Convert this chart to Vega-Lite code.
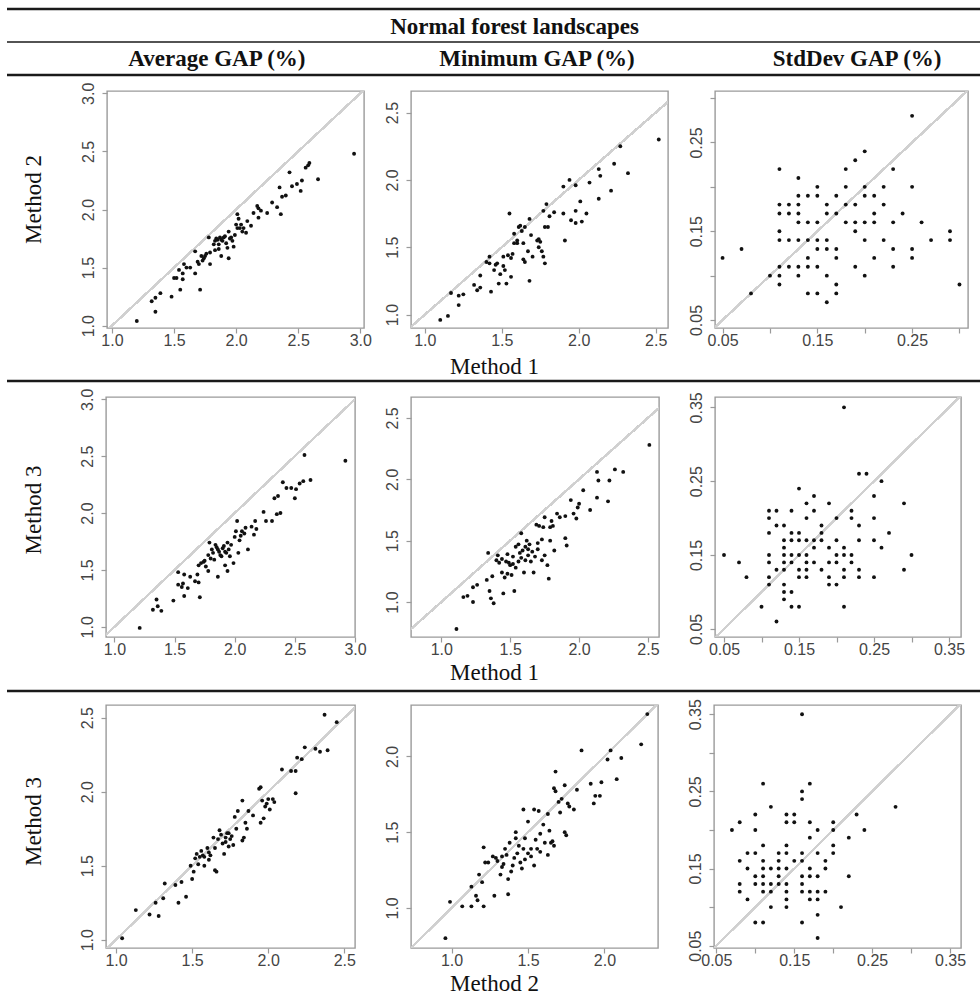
{
  "$schema": "https://vega.github.io/schema/vega-lite/v6.json",
  "padding": {"left": 5, "top": 7, "right": 0, "bottom": 8},
  "background": "white",
  "spacing": 4,
  "datasets": {
    "avg12": [
      {"x":1.20,"y":1.04},{"x":1.35,"y":1.12},{"x":1.32,"y":1.21},{"x":1.35,"y":1.24},{"x":1.39,"y":1.28},{"x":1.48,"y":1.25},{"x":1.50,"y":1.41},{"x":1.52,"y":1.41},{"x":1.55,"y":1.31},{"x":1.54,"y":1.48},{"x":1.57,"y":1.45},{"x":1.58,"y":1.53},{"x":1.57,"y":1.40},{"x":1.63,"y":1.50},{"x":1.67,"y":1.45},{"x":1.67,"y":1.64},{"x":1.71,"y":1.31},{"x":1.70,"y":1.53},{"x":1.73,"y":1.56},{"x":1.74,"y":1.58},{"x":1.75,"y":1.60},{"x":1.78,"y":1.76},{"x":1.79,"y":1.63},{"x":1.82,"y":1.70},{"x":1.83,"y":1.73},{"x":1.85,"y":1.74},{"x":1.86,"y":1.70},{"x":1.87,"y":1.76},{"x":1.88,"y":1.60},{"x":1.89,"y":1.73},{"x":1.90,"y":1.76},{"x":1.92,"y":1.71},{"x":1.93,"y":1.67},{"x":1.94,"y":1.58},{"x":1.96,"y":1.76},{"x":1.97,"y":1.73},{"x":1.98,"y":1.68},{"x":2.00,"y":1.87},{"x":2.01,"y":1.96},{"x":2.01,"y":1.84},{"x":2.02,"y":1.92},{"x":2.04,"y":1.87},{"x":2.06,"y":1.84},{"x":2.08,"y":1.80},{"x":2.09,"y":1.90},{"x":2.12,"y":1.86},{"x":2.14,"y":1.97},{"x":2.17,"y":2.03},{"x":2.18,"y":1.93},{"x":2.20,"y":1.99},{"x":2.25,"y":1.97},{"x":2.29,"y":2.06},{"x":2.33,"y":2.02},{"x":2.35,"y":2.19},{"x":2.36,"y":1.96},{"x":2.37,"y":2.11},{"x":2.43,"y":2.32},{"x":2.45,"y":2.20},{"x":2.49,"y":2.22},{"x":2.52,"y":2.16},{"x":2.53,"y":2.25},{"x":2.56,"y":2.36},{"x":2.59,"y":2.40},{"x":2.66,"y":2.26},{"x":2.95,"y":2.48},{"x":1.72,"y":1.60},{"x":1.83,"y":1.65},{"x":1.94,"y":1.81},{"x":2.05,"y":1.81},{"x":1.79,"y":1.53},{"x":1.84,"y":1.75},{"x":1.88,"y":1.74},{"x":1.91,"y":1.77},{"x":1.95,"y":1.75},{"x":1.99,"y":1.78},{"x":1.86,"y":1.66},{"x":2.03,"y":1.84},{"x":1.76,"y":1.62},{"x":2.18,"y":2.01},{"x":2.40,"y":2.12},{"x":2.58,"y":2.38},{"x":1.60,"y":1.50},{"x":1.69,"y":1.55}
    ],
    "min12": [
      {"x":1.10,"y":0.96},{"x":1.15,"y":0.99},{"x":1.17,"y":1.16},{"x":1.22,"y":1.14},{"x":1.25,"y":1.15},{"x":1.22,"y":1.07},{"x":1.32,"y":1.22},{"x":1.34,"y":1.18},{"x":1.36,"y":1.20},{"x":1.36,"y":1.29},{"x":1.40,"y":1.39},{"x":1.42,"y":1.43},{"x":1.43,"y":1.17},{"x":1.45,"y":1.33},{"x":1.47,"y":1.38},{"x":1.48,"y":1.23},{"x":1.49,"y":1.30},{"x":1.51,"y":1.36},{"x":1.52,"y":1.33},{"x":1.53,"y":1.23},{"x":1.54,"y":1.44},{"x":1.55,"y":1.75},{"x":1.56,"y":1.28},{"x":1.57,"y":1.45},{"x":1.58,"y":1.53},{"x":1.58,"y":1.60},{"x":1.60,"y":1.53},{"x":1.61,"y":1.65},{"x":1.62,"y":1.66},{"x":1.64,"y":1.53},{"x":1.64,"y":1.41},{"x":1.65,"y":1.65},{"x":1.67,"y":1.47},{"x":1.68,"y":1.25},{"x":1.68,"y":1.71},{"x":1.69,"y":1.59},{"x":1.70,"y":1.43},{"x":1.73,"y":1.55},{"x":1.74,"y":1.50},{"x":1.75,"y":1.54},{"x":1.76,"y":1.47},{"x":1.77,"y":1.43},{"x":1.77,"y":1.77},{"x":1.78,"y":1.65},{"x":1.79,"y":1.82},{"x":1.78,"y":1.38},{"x":1.80,"y":1.65},{"x":1.81,"y":1.73},{"x":1.84,"y":1.76},{"x":1.90,"y":1.95},{"x":1.90,"y":1.75},{"x":1.91,"y":1.55},{"x":1.94,"y":2.00},{"x":1.95,"y":1.70},{"x":1.98,"y":1.96},{"x":1.98,"y":1.77},{"x":2.01,"y":1.84},{"x":1.98,"y":1.68},{"x":2.02,"y":1.69},{"x":2.05,"y":1.75},{"x":2.07,"y":1.98},{"x":2.13,"y":2.08},{"x":2.13,"y":1.86},{"x":2.14,"y":2.03},{"x":2.21,"y":1.92},{"x":2.23,"y":2.12},{"x":2.27,"y":2.25},{"x":2.32,"y":2.05},{"x":2.52,"y":2.30},{"x":1.42,"y":1.38},{"x":1.51,"y":1.43},{"x":1.65,"y":1.39},{"x":1.60,"y":1.55},{"x":1.63,"y":1.62},{"x":1.74,"y":1.56},{"x":1.56,"y":1.42},{"x":1.46,"y":1.37}
    ],
    "sd12": [
      {"x":0.05,"y":0.12},{"x":0.07,"y":0.13},{"x":0.08,"y":0.08},{"x":0.10,"y":0.10},{"x":0.11,"y":0.22},{"x":0.11,"y":0.18},{"x":0.11,"y":0.17},{"x":0.11,"y":0.15},{"x":0.11,"y":0.14},{"x":0.11,"y":0.11},{"x":0.11,"y":0.10},{"x":0.11,"y":0.09},{"x":0.12,"y":0.18},{"x":0.12,"y":0.17},{"x":0.12,"y":0.14},{"x":0.12,"y":0.11},{"x":0.13,"y":0.21},{"x":0.13,"y":0.19},{"x":0.13,"y":0.18},{"x":0.13,"y":0.17},{"x":0.13,"y":0.16},{"x":0.13,"y":0.14},{"x":0.13,"y":0.11},{"x":0.13,"y":0.10},{"x":0.14,"y":0.19},{"x":0.14,"y":0.16},{"x":0.14,"y":0.14},{"x":0.14,"y":0.12},{"x":0.14,"y":0.11},{"x":0.14,"y":0.08},{"x":0.15,"y":0.20},{"x":0.15,"y":0.19},{"x":0.15,"y":0.16},{"x":0.15,"y":0.14},{"x":0.15,"y":0.13},{"x":0.15,"y":0.11},{"x":0.15,"y":0.08},{"x":0.16,"y":0.18},{"x":0.16,"y":0.17},{"x":0.16,"y":0.14},{"x":0.16,"y":0.13},{"x":0.16,"y":0.10},{"x":0.16,"y":0.07},{"x":0.17,"y":0.19},{"x":0.17,"y":0.17},{"x":0.17,"y":0.13},{"x":0.17,"y":0.12},{"x":0.17,"y":0.09},{"x":0.17,"y":0.08},{"x":0.18,"y":0.22},{"x":0.18,"y":0.20},{"x":0.18,"y":0.18},{"x":0.18,"y":0.16},{"x":0.19,"y":0.23},{"x":0.19,"y":0.18},{"x":0.19,"y":0.16},{"x":0.19,"y":0.15},{"x":0.19,"y":0.11},{"x":0.20,"y":0.24},{"x":0.20,"y":0.20},{"x":0.20,"y":0.19},{"x":0.20,"y":0.16},{"x":0.20,"y":0.14},{"x":0.20,"y":0.10},{"x":0.21,"y":0.19},{"x":0.21,"y":0.17},{"x":0.21,"y":0.16},{"x":0.21,"y":0.12},{"x":0.22,"y":0.20},{"x":0.22,"y":0.18},{"x":0.22,"y":0.14},{"x":0.23,"y":0.22},{"x":0.23,"y":0.16},{"x":0.23,"y":0.13},{"x":0.23,"y":0.11},{"x":0.24,"y":0.17},{"x":0.25,"y":0.28},{"x":0.25,"y":0.20},{"x":0.25,"y":0.13},{"x":0.25,"y":0.12},{"x":0.26,"y":0.16},{"x":0.27,"y":0.14},{"x":0.29,"y":0.15},{"x":0.29,"y":0.14},{"x":0.30,"y":0.09}
    ],
    "avg13": [
      {"x":1.21,"y":0.99},{"x":1.32,"y":1.15},{"x":1.35,"y":1.24},{"x":1.36,"y":1.18},{"x":1.39,"y":1.14},{"x":1.49,"y":1.23},{"x":1.53,"y":1.48},{"x":1.53,"y":1.37},{"x":1.56,"y":1.35},{"x":1.58,"y":1.46},{"x":1.58,"y":1.27},{"x":1.63,"y":1.44},{"x":1.67,"y":1.40},{"x":1.69,"y":1.46},{"x":1.70,"y":1.39},{"x":1.71,"y":1.26},{"x":1.70,"y":1.54},{"x":1.72,"y":1.56},{"x":1.74,"y":1.57},{"x":1.76,"y":1.53},{"x":1.78,"y":1.49},{"x":1.78,"y":1.63},{"x":1.81,"y":1.68},{"x":1.82,"y":1.65},{"x":1.83,"y":1.59},{"x":1.84,"y":1.72},{"x":1.86,"y":1.44},{"x":1.86,"y":1.68},{"x":1.88,"y":1.63},{"x":1.89,"y":1.62},{"x":1.90,"y":1.69},{"x":1.92,"y":1.54},{"x":1.93,"y":1.65},{"x":1.94,"y":1.49},{"x":1.94,"y":1.74},{"x":1.96,"y":1.62},{"x":1.97,"y":1.72},{"x":1.99,"y":1.56},{"x":2.01,"y":1.84},{"x":2.02,"y":1.93},{"x":2.03,"y":1.65},{"x":2.04,"y":1.76},{"x":2.06,"y":1.84},{"x":2.08,"y":1.82},{"x":2.09,"y":1.87},{"x":2.11,"y":1.68},{"x":2.14,"y":1.88},{"x":2.16,"y":1.81},{"x":2.17,"y":1.93},{"x":2.24,"y":2.01},{"x":2.26,"y":1.93},{"x":2.31,"y":1.93},{"x":2.33,"y":2.13},{"x":2.35,"y":1.99},{"x":2.36,"y":2.15},{"x":2.40,"y":2.27},{"x":2.43,"y":2.22},{"x":2.47,"y":2.22},{"x":2.50,"y":2.13},{"x":2.51,"y":2.21},{"x":2.54,"y":2.26},{"x":2.57,"y":2.28},{"x":2.58,"y":2.51},{"x":2.63,"y":2.29},{"x":2.92,"y":2.46},{"x":1.79,"y":1.74},{"x":1.92,"y":1.66},{"x":2.00,"y":1.79},{"x":1.61,"y":1.34},{"x":1.85,"y":1.70},{"x":1.91,"y":1.71},{"x":1.95,"y":1.68},{"x":1.87,"y":1.66},{"x":1.80,"y":1.60},{"x":2.18,"y":1.86},{"x":2.05,"y":1.80},{"x":1.75,"y":1.58},{"x":1.57,"y":1.38},{"x":2.38,"y":2.00}
    ],
    "min13": [
      {"x":1.11,"y":0.78},{"x":1.16,"y":1.04},{"x":1.19,"y":1.05},{"x":1.23,"y":1.00},{"x":1.23,"y":1.12},{"x":1.26,"y":1.14},{"x":1.33,"y":1.18},{"x":1.34,"y":1.40},{"x":1.37,"y":1.21},{"x":1.35,"y":1.09},{"x":1.36,"y":1.03},{"x":1.38,"y":0.99},{"x":1.40,"y":1.34},{"x":1.41,"y":1.38},{"x":1.42,"y":1.32},{"x":1.44,"y":1.24},{"x":1.45,"y":1.07},{"x":1.46,"y":1.20},{"x":1.47,"y":1.33},{"x":1.48,"y":1.23},{"x":1.49,"y":1.32},{"x":1.50,"y":1.30},{"x":1.51,"y":1.22},{"x":1.52,"y":1.37},{"x":1.53,"y":1.09},{"x":1.54,"y":1.28},{"x":1.54,"y":1.45},{"x":1.56,"y":1.47},{"x":1.56,"y":1.33},{"x":1.57,"y":1.40},{"x":1.58,"y":1.56},{"x":1.59,"y":1.42},{"x":1.60,"y":1.24},{"x":1.61,"y":1.34},{"x":1.62,"y":1.50},{"x":1.63,"y":1.38},{"x":1.64,"y":1.47},{"x":1.65,"y":1.33},{"x":1.67,"y":1.24},{"x":1.68,"y":1.37},{"x":1.69,"y":1.63},{"x":1.70,"y":1.43},{"x":1.71,"y":1.62},{"x":1.73,"y":1.34},{"x":1.73,"y":1.51},{"x":1.74,"y":1.61},{"x":1.75,"y":1.69},{"x":1.75,"y":1.38},{"x":1.77,"y":1.30},{"x":1.78,"y":1.19},{"x":1.79,"y":1.50},{"x":1.79,"y":1.61},{"x":1.80,"y":1.66},{"x":1.81,"y":1.62},{"x":1.82,"y":1.42},{"x":1.84,"y":1.72},{"x":1.86,"y":1.69},{"x":1.90,"y":1.52},{"x":1.91,"y":1.46},{"x":1.90,"y":1.70},{"x":1.94,"y":1.83},{"x":1.96,"y":1.72},{"x":1.98,"y":1.68},{"x":1.99,"y":1.77},{"x":2.00,"y":1.80},{"x":2.03,"y":1.91},{"x":2.08,"y":1.75},{"x":2.13,"y":2.06},{"x":2.14,"y":1.99},{"x":2.13,"y":1.85},{"x":2.21,"y":1.82},{"x":2.22,"y":1.99},{"x":2.26,"y":2.08},{"x":2.32,"y":2.06},{"x":2.51,"y":2.28},{"x":1.61,"y":1.45},{"x":1.48,"y":1.39},{"x":1.66,"y":1.41},{"x":1.58,"y":1.36},{"x":1.52,"y":1.31},{"x":1.44,"y":1.35},{"x":1.70,"y":1.48},{"x":1.63,"y":1.43}
    ],
    "sd13": [
      {"x":0.05,"y":0.15},{"x":0.07,"y":0.14},{"x":0.08,"y":0.12},{"x":0.10,"y":0.08},{"x":0.11,"y":0.21},{"x":0.11,"y":0.20},{"x":0.11,"y":0.18},{"x":0.11,"y":0.15},{"x":0.11,"y":0.14},{"x":0.11,"y":0.12},{"x":0.11,"y":0.11},{"x":0.12,"y":0.21},{"x":0.12,"y":0.13},{"x":0.12,"y":0.06},{"x":0.12,"y":0.19},{"x":0.13,"y":0.19},{"x":0.13,"y":0.17},{"x":0.13,"y":0.16},{"x":0.13,"y":0.15},{"x":0.13,"y":0.14},{"x":0.13,"y":0.13},{"x":0.13,"y":0.11},{"x":0.13,"y":0.10},{"x":0.13,"y":0.09},{"x":0.14,"y":0.21},{"x":0.14,"y":0.18},{"x":0.14,"y":0.17},{"x":0.14,"y":0.15},{"x":0.14,"y":0.14},{"x":0.14,"y":0.10},{"x":0.14,"y":0.08},{"x":0.15,"y":0.24},{"x":0.15,"y":0.18},{"x":0.15,"y":0.17},{"x":0.15,"y":0.15},{"x":0.15,"y":0.13},{"x":0.15,"y":0.12},{"x":0.15,"y":0.08},{"x":0.16,"y":0.22},{"x":0.16,"y":0.20},{"x":0.16,"y":0.17},{"x":0.16,"y":0.15},{"x":0.16,"y":0.14},{"x":0.16,"y":0.13},{"x":0.16,"y":0.12},{"x":0.17,"y":0.23},{"x":0.17,"y":0.21},{"x":0.17,"y":0.17},{"x":0.17,"y":0.16},{"x":0.17,"y":0.14},{"x":0.18,"y":0.19},{"x":0.18,"y":0.18},{"x":0.18,"y":0.17},{"x":0.18,"y":0.13},{"x":0.19,"y":0.22},{"x":0.19,"y":0.16},{"x":0.19,"y":0.14},{"x":0.19,"y":0.12},{"x":0.19,"y":0.11},{"x":0.20,"y":0.20},{"x":0.20,"y":0.17},{"x":0.20,"y":0.15},{"x":0.20,"y":0.14},{"x":0.20,"y":0.11},{"x":0.21,"y":0.35},{"x":0.21,"y":0.16},{"x":0.21,"y":0.15},{"x":0.21,"y":0.13},{"x":0.21,"y":0.12},{"x":0.21,"y":0.08},{"x":0.22,"y":0.21},{"x":0.22,"y":0.20},{"x":0.22,"y":0.15},{"x":0.22,"y":0.14},{"x":0.23,"y":0.26},{"x":0.23,"y":0.19},{"x":0.23,"y":0.17},{"x":0.23,"y":0.13},{"x":0.23,"y":0.12},{"x":0.24,"y":0.26},{"x":0.25,"y":0.23},{"x":0.25,"y":0.20},{"x":0.25,"y":0.17},{"x":0.25,"y":0.12},{"x":0.26,"y":0.25},{"x":0.26,"y":0.16},{"x":0.27,"y":0.18},{"x":0.29,"y":0.22},{"x":0.29,"y":0.13},{"x":0.30,"y":0.15}
    ],
    "avg23": [
      {"x":1.04,"y":1.01},{"x":1.13,"y":1.20},{"x":1.22,"y":1.17},{"x":1.26,"y":1.25},{"x":1.28,"y":1.16},{"x":1.32,"y":1.38},{"x":1.31,"y":1.28},{"x":1.39,"y":1.37},{"x":1.41,"y":1.25},{"x":1.43,"y":1.39},{"x":1.46,"y":1.29},{"x":1.49,"y":1.50},{"x":1.50,"y":1.41},{"x":1.51,"y":1.46},{"x":1.52,"y":1.55},{"x":1.53,"y":1.58},{"x":1.54,"y":1.51},{"x":1.55,"y":1.56},{"x":1.56,"y":1.60},{"x":1.58,"y":1.50},{"x":1.58,"y":1.56},{"x":1.60,"y":1.62},{"x":1.61,"y":1.59},{"x":1.64,"y":1.69},{"x":1.65,"y":1.47},{"x":1.65,"y":1.62},{"x":1.66,"y":1.46},{"x":1.68,"y":1.74},{"x":1.69,"y":1.71},{"x":1.70,"y":1.65},{"x":1.71,"y":1.58},{"x":1.72,"y":1.69},{"x":1.73,"y":1.72},{"x":1.74,"y":1.63},{"x":1.75,"y":1.68},{"x":1.76,"y":1.70},{"x":1.77,"y":1.64},{"x":1.78,"y":1.83},{"x":1.80,"y":1.87},{"x":1.83,"y":1.94},{"x":1.83,"y":1.67},{"x":1.84,"y":1.69},{"x":1.85,"y":1.79},{"x":1.86,"y":1.75},{"x":1.87,"y":1.87},{"x":1.90,"y":1.84},{"x":1.94,"y":2.02},{"x":1.95,"y":2.03},{"x":1.95,"y":1.79},{"x":1.96,"y":1.94},{"x":1.97,"y":1.82},{"x":1.98,"y":1.90},{"x":2.00,"y":1.95},{"x":2.01,"y":1.88},{"x":2.03,"y":1.95},{"x":2.09,"y":2.15},{"x":2.15,"y":2.14},{"x":2.18,"y":1.99},{"x":2.19,"y":2.23},{"x":2.22,"y":2.22},{"x":2.24,"y":2.30},{"x":2.31,"y":2.29},{"x":2.34,"y":2.27},{"x":2.37,"y":2.52},{"x":2.39,"y":2.28},{"x":2.45,"y":2.47},{"x":2.18,"y":2.14},{"x":1.67,"y":1.68},{"x":1.61,"y":1.54},{"x":1.72,"y":1.66},{"x":1.74,"y":1.72},{"x":1.57,"y":1.57},{"x":1.99,"y":1.92},{"x":2.04,"y":1.93},{"x":1.79,"y":1.75},{"x":1.62,"y":1.57}
    ],
    "min23": [
      {"x":0.96,"y":0.80},{"x":0.99,"y":1.04},{"x":1.07,"y":1.01},{"x":1.13,"y":1.01},{"x":1.13,"y":1.14},{"x":1.16,"y":1.08},{"x":1.17,"y":1.05},{"x":1.18,"y":1.22},{"x":1.20,"y":1.17},{"x":1.21,"y":1.01},{"x":1.21,"y":1.40},{"x":1.22,"y":1.30},{"x":1.24,"y":1.30},{"x":1.27,"y":1.34},{"x":1.28,"y":1.08},{"x":1.29,"y":1.33},{"x":1.32,"y":1.22},{"x":1.33,"y":1.27},{"x":1.33,"y":1.34},{"x":1.34,"y":1.29},{"x":1.36,"y":1.35},{"x":1.37,"y":1.19},{"x":1.37,"y":1.09},{"x":1.38,"y":1.43},{"x":1.39,"y":1.24},{"x":1.40,"y":1.28},{"x":1.41,"y":1.33},{"x":1.42,"y":1.50},{"x":1.42,"y":1.46},{"x":1.43,"y":1.36},{"x":1.45,"y":1.30},{"x":1.46,"y":1.26},{"x":1.47,"y":1.39},{"x":1.47,"y":1.65},{"x":1.48,"y":1.46},{"x":1.50,"y":1.57},{"x":1.50,"y":1.36},{"x":1.52,"y":1.34},{"x":1.52,"y":1.39},{"x":1.54,"y":1.65},{"x":1.54,"y":1.28},{"x":1.55,"y":1.45},{"x":1.56,"y":1.39},{"x":1.57,"y":1.64},{"x":1.58,"y":1.37},{"x":1.60,"y":1.55},{"x":1.61,"y":1.43},{"x":1.63,"y":1.35},{"x":1.63,"y":1.62},{"x":1.64,"y":1.51},{"x":1.65,"y":1.43},{"x":1.66,"y":1.44},{"x":1.67,"y":1.41},{"x":1.67,"y":1.79},{"x":1.68,"y":1.90},{"x":1.68,"y":1.77},{"x":1.70,"y":1.70},{"x":1.71,"y":1.63},{"x":1.72,"y":1.72},{"x":1.74,"y":1.81},{"x":1.74,"y":1.50},{"x":1.75,"y":1.48},{"x":1.76,"y":1.69},{"x":1.77,"y":1.67},{"x":1.80,"y":1.65},{"x":1.82,"y":1.78},{"x":1.85,"y":2.04},{"x":1.91,"y":1.82},{"x":1.93,"y":1.69},{"x":1.94,"y":1.74},{"x":1.97,"y":1.74},{"x":1.98,"y":1.83},{"x":2.02,"y":1.98},{"x":2.04,"y":2.04},{"x":2.08,"y":1.85},{"x":2.11,"y":1.99},{"x":2.24,"y":2.08},{"x":2.28,"y":2.28},{"x":1.48,"y":1.32},{"x":1.35,"y":1.39},{"x":1.44,"y":1.41},{"x":1.58,"y":1.49},{"x":1.30,"y":1.31}
    ],
    "sd23": [
      {"x":0.07,"y":0.20},{"x":0.08,"y":0.21},{"x":0.08,"y":0.16},{"x":0.08,"y":0.13},{"x":0.08,"y":0.12},{"x":0.09,"y":0.17},{"x":0.09,"y":0.15},{"x":0.09,"y":0.11},{"x":0.10,"y":0.22},{"x":0.10,"y":0.20},{"x":0.10,"y":0.17},{"x":0.10,"y":0.14},{"x":0.10,"y":0.13},{"x":0.10,"y":0.08},{"x":0.11,"y":0.26},{"x":0.11,"y":0.18},{"x":0.11,"y":0.16},{"x":0.11,"y":0.15},{"x":0.11,"y":0.14},{"x":0.11,"y":0.13},{"x":0.11,"y":0.12},{"x":0.11,"y":0.08},{"x":0.12,"y":0.23},{"x":0.12,"y":0.15},{"x":0.12,"y":0.13},{"x":0.12,"y":0.12},{"x":0.12,"y":0.10},{"x":0.13,"y":0.17},{"x":0.13,"y":0.16},{"x":0.13,"y":0.15},{"x":0.13,"y":0.14},{"x":0.13,"y":0.13},{"x":0.14,"y":0.22},{"x":0.14,"y":0.21},{"x":0.14,"y":0.18},{"x":0.14,"y":0.17},{"x":0.14,"y":0.15},{"x":0.14,"y":0.13},{"x":0.14,"y":0.12},{"x":0.14,"y":0.11},{"x":0.14,"y":0.10},{"x":0.15,"y":0.22},{"x":0.15,"y":0.21},{"x":0.15,"y":0.16},{"x":0.16,"y":0.35},{"x":0.16,"y":0.25},{"x":0.16,"y":0.24},{"x":0.16,"y":0.17},{"x":0.16,"y":0.16},{"x":0.16,"y":0.14},{"x":0.16,"y":0.13},{"x":0.16,"y":0.12},{"x":0.16,"y":0.08},{"x":0.17,"y":0.26},{"x":0.17,"y":0.21},{"x":0.17,"y":0.19},{"x":0.17,"y":0.15},{"x":0.17,"y":0.14},{"x":0.17,"y":0.12},{"x":0.17,"y":0.11},{"x":0.18,"y":0.20},{"x":0.18,"y":0.17},{"x":0.18,"y":0.14},{"x":0.18,"y":0.12},{"x":0.18,"y":0.11},{"x":0.18,"y":0.09},{"x":0.18,"y":0.06},{"x":0.19,"y":0.16},{"x":0.19,"y":0.15},{"x":0.19,"y":0.12},{"x":0.20,"y":0.21},{"x":0.20,"y":0.20},{"x":0.20,"y":0.18},{"x":0.20,"y":0.17},{"x":0.21,"y":0.10},{"x":0.22,"y":0.19},{"x":0.22,"y":0.14},{"x":0.23,"y":0.22},{"x":0.24,"y":0.20},{"x":0.28,"y":0.23}
    ]
  },
  "vconcat": [
    {
      "width": 975,
      "height": 66,
      "view": {"stroke": null},
      "data": {"values": [
        {"label": "Normal forest landscapes", "tier": "group"},
        {"label": "Average GAP (%)", "tier": "measure"},
        {"label": "Minimum GAP (%)", "tier": "measure"},
        {"label": "StdDev GAP (%)", "tier": "measure"}
      ]},
      "layer": [
        {
          "data": {"values": [{"edge": "top"}]},
          "mark": {"type": "rule", "strokeWidth": 2.4, "color": "#1a1a1a"},
          "encoding": {"y": {"datum": "group", "type": "nominal", "bandPosition": 0, "scale": {"type": "band", "domain": ["group", "measure"], "paddingInner": 0, "paddingOuter": 0}, "axis": null}}
        },
        {
          "data": {"values": [{"edge": "middle"}]},
          "mark": {"type": "rule", "strokeWidth": 1.6, "color": "#1a1a1a"},
          "encoding": {"y": {"datum": "measure", "type": "nominal", "bandPosition": 0}}
        },
        {
          "data": {"values": [{"edge": "bottom"}]},
          "mark": {"type": "rule", "strokeWidth": 2.4, "color": "#1a1a1a"},
          "encoding": {"y": {"datum": "measure", "type": "nominal", "bandPosition": 1}}
        },
        {
          "transform": [{"filter": "datum.tier == 'group'"}],
          "mark": {"type": "text", "font": "Liberation Serif", "fontWeight": "bold", "fontSize": 23, "color": "#111", "dx": 20, "dy": 1},
          "encoding": {
            "y": {"field": "tier", "type": "nominal", "bandPosition": 0.5},
            "text": {"field": "label"}
          }
        },
        {
          "transform": [{"filter": "datum.tier == 'measure'"}],
          "mark": {"type": "text", "font": "Liberation Serif", "fontWeight": "bold", "fontSize": 23, "color": "#111"},
          "encoding": {
            "x": {"field": "label", "type": "nominal", "sort": null, "scale": {"type": "point", "domain": ["Average GAP (%)", "Minimum GAP (%)", "StdDev GAP (%)"], "padding": 0.523, "align": 0.627}, "axis": null},
            "y": {"field": "tier", "type": "nominal", "bandPosition": 0.5},
            "text": {"field": "label"}
          }
        }
      ]
    },
    {
      "hconcat": [
        {
          "width": 53, "height": 237, "view": {"stroke": null},
          "data": {"values": [{"label": "Method 2"}]},
          "mark": {"type": "text", "angle": 270, "font": "Liberation Serif", "fontSize": 23, "color": "#111", "dx": 10, "dy": 0},
          "encoding": {"text": {"field": "label"}}
        },
        {
          "width": 257, "height": 237,
          "data": {"name": "avg12"},
          "layer": [
            {"mark": {"type": "rule", "clip": true, "color": "#d0d0d0", "strokeWidth": 1.5},
             "encoding": {"x": {"datum": 0, "type": "quantitative", "axis": {"title": null}}, "y": {"datum": 0, "type": "quantitative", "axis": {"title": null}}, "x2": {"datum": 5}, "y2": {"datum": 5}}},
            {"mark": {"type": "circle", "size": 15, "color": "#111", "opacity": 1},
             "encoding": {
               "x": {"field": "x", "type": "quantitative", "scale": {"domain": [0.96, 3.03], "nice": false, "zero": false}, "axis": {"title": null, "values": [1, 1.5, 2, 2.5, 3], "format": ".1f"}},
               "y": {"field": "y", "type": "quantitative", "scale": {"domain": [0.98, 3.02], "nice": false, "zero": false}, "axis": {"title": null, "values": [1, 1.5, 2, 2.5, 3], "format": ".1f"}}
             }}
          ]
        },
        {
          "width": 257, "height": 237,
          "data": {"name": "min12"},
          "layer": [
            {"mark": {"type": "rule", "clip": true, "color": "#d0d0d0", "strokeWidth": 1.5},
             "encoding": {"x": {"datum": 0, "type": "quantitative", "axis": {"title": null}}, "y": {"datum": 0, "type": "quantitative", "axis": {"title": null}}, "x2": {"datum": 5}, "y2": {"datum": 5}}},
            {"mark": {"type": "circle", "size": 15, "color": "#111", "opacity": 1},
             "encoding": {
               "x": {"field": "x", "type": "quantitative", "scale": {"domain": [0.91, 2.58], "nice": false, "zero": false}, "axis": {"title": null, "values": [1, 1.5, 2, 2.5], "format": ".1f"}},
               "y": {"field": "y", "type": "quantitative", "scale": {"domain": [0.9, 2.66], "nice": false, "zero": false}, "axis": {"title": null, "values": [1, 1.5, 2, 2.5], "format": ".1f"}}
             }}
          ]
        },
        {
          "width": 253, "height": 237,
          "data": {"name": "sd12"},
          "layer": [
            {"mark": {"type": "rule", "clip": true, "color": "#d0d0d0", "strokeWidth": 1.5},
             "encoding": {"x": {"datum": 0, "type": "quantitative", "axis": {"title": null}}, "y": {"datum": 0, "type": "quantitative", "axis": {"title": null}}, "x2": {"datum": 1}, "y2": {"datum": 1}}},
            {"mark": {"type": "circle", "size": 15, "color": "#111", "opacity": 1},
             "encoding": {
               "x": {"field": "x", "type": "quantitative", "scale": {"domain": [0.042, 0.309], "nice": false, "zero": false}, "axis": {"title": null, "values": [0.05, 0.1, 0.15, 0.2, 0.25, 0.3], "labelExpr": "abs(datum.value*100 - round(datum.value*10)*10) > 1 ? format(datum.value, '.2f') : ''"}},
               "y": {"field": "y", "type": "quantitative", "scale": {"domain": [0.041, 0.308], "nice": false, "zero": false}, "axis": {"title": null, "values": [0.05, 0.1, 0.15, 0.2, 0.25, 0.3], "labelExpr": "abs(datum.value*100 - round(datum.value*10)*10) > 1 ? format(datum.value, '.2f') : ''"}}
             }}
          ]
        }
      ],
      "spacing": 47,
      "bounds": "flush"
    },
    {
      "width": 975, "height": 28, "view": {"stroke": null},
      "data": {"values": [{"label": "Method 1", "tier": "axis"}]},
      "layer": [
        {"mark": {"type": "text", "font": "Liberation Serif", "fontSize": 23, "color": "#111"},
         "encoding": {"y": {"field": "tier", "type": "nominal", "bandPosition": 0.5, "scale": {"type": "band", "paddingInner": 0, "paddingOuter": 0}, "axis": null}, "text": {"field": "label"}}},
        {"mark": {"type": "rule", "strokeWidth": 2.4, "color": "#1a1a1a"},
         "encoding": {"y": {"field": "tier", "type": "nominal", "bandPosition": 1}}}
      ]
    },
    {
      "hconcat": [
        {
          "width": 43, "height": 240, "view": {"stroke": null},
          "data": {"values": [{"label": "Method 3"}]},
          "mark": {"type": "text", "angle": 270, "font": "Liberation Serif", "fontSize": 23, "color": "#111", "dx": 7, "dy": 5},
          "encoding": {"text": {"field": "label"}}
        },
        {
          "width": 249, "height": 240,
          "data": {"name": "avg13"},
          "layer": [
            {"mark": {"type": "rule", "clip": true, "color": "#d0d0d0", "strokeWidth": 1.5},
             "encoding": {"x": {"datum": 0, "type": "quantitative", "axis": {"title": null}}, "y": {"datum": 0, "type": "quantitative", "axis": {"title": null}}, "x2": {"datum": 5}, "y2": {"datum": 5}}},
            {"mark": {"type": "circle", "size": 15, "color": "#111", "opacity": 1},
             "encoding": {
               "x": {"field": "x", "type": "quantitative", "scale": {"domain": [0.93, 3.0], "nice": false, "zero": false}, "axis": {"title": null, "values": [1, 1.5, 2, 2.5, 3], "format": ".1f"}},
               "y": {"field": "y", "type": "quantitative", "scale": {"domain": [0.91, 3.02], "nice": false, "zero": false}, "axis": {"title": null, "values": [1, 1.5, 2, 2.5, 3], "format": ".1f"}}
             }}
          ]
        },
        {
          "width": 248, "height": 240,
          "data": {"name": "min13"},
          "layer": [
            {"mark": {"type": "rule", "clip": true, "color": "#d0d0d0", "strokeWidth": 1.5},
             "encoding": {"x": {"datum": 0, "type": "quantitative", "axis": {"title": null}}, "y": {"datum": 0, "type": "quantitative", "axis": {"title": null}}, "x2": {"datum": 5}, "y2": {"datum": 5}}},
            {"mark": {"type": "circle", "size": 15, "color": "#111", "opacity": 1},
             "encoding": {
               "x": {"field": "x", "type": "quantitative", "scale": {"domain": [0.78, 2.58], "nice": false, "zero": false}, "axis": {"title": null, "values": [1, 1.5, 2, 2.5], "format": ".1f"}},
               "y": {"field": "y", "type": "quantitative", "scale": {"domain": [0.715, 2.67], "nice": false, "zero": false}, "axis": {"title": null, "values": [1, 1.5, 2, 2.5], "format": ".1f"}}
             }}
          ]
        },
        {
          "width": 246, "height": 240,
          "data": {"name": "sd13"},
          "layer": [
            {"mark": {"type": "rule", "clip": true, "color": "#d0d0d0", "strokeWidth": 1.5},
             "encoding": {"x": {"datum": 0, "type": "quantitative", "axis": {"title": null}}, "y": {"datum": 0, "type": "quantitative", "axis": {"title": null}}, "x2": {"datum": 1}, "y2": {"datum": 1}}},
            {"mark": {"type": "circle", "size": 15, "color": "#111", "opacity": 1},
             "encoding": {
               "x": {"field": "x", "type": "quantitative", "scale": {"domain": [0.038, 0.366], "nice": false, "zero": false}, "axis": {"title": null, "values": [0.05, 0.1, 0.15, 0.2, 0.25, 0.3, 0.35], "labelExpr": "abs(datum.value*100 - round(datum.value*10)*10) > 1 ? format(datum.value, '.2f') : ''"}},
               "y": {"field": "y", "type": "quantitative", "scale": {"domain": [0.039, 0.364], "nice": false, "zero": false}, "axis": {"title": null, "values": [0.05, 0.1, 0.15, 0.2, 0.25, 0.3, 0.35], "labelExpr": "abs(datum.value*100 - round(datum.value*10)*10) > 1 ? format(datum.value, '.2f') : ''"}}
             }}
          ]
        }
      ],
      "spacing": 56,
      "bounds": "flush"
    },
    {
      "width": 975, "height": 27, "view": {"stroke": null},
      "data": {"values": [{"label": "Method 1", "tier": "axis"}]},
      "layer": [
        {"mark": {"type": "text", "font": "Liberation Serif", "fontSize": 23, "color": "#111"},
         "encoding": {"y": {"field": "tier", "type": "nominal", "bandPosition": 0.35, "scale": {"type": "band", "paddingInner": 0, "paddingOuter": 0}, "axis": null}, "text": {"field": "label"}}},
        {"mark": {"type": "rule", "strokeWidth": 2.4, "color": "#1a1a1a"},
         "encoding": {"y": {"field": "tier", "type": "nominal", "bandPosition": 1}}}
      ]
    },
    {
      "hconcat": [
        {
          "width": 43, "height": 243, "view": {"stroke": null},
          "data": {"values": [{"label": "Method 3"}]},
          "mark": {"type": "text", "angle": 270, "font": "Liberation Serif", "fontSize": 23, "color": "#111", "dx": 5, "dy": 5},
          "encoding": {"text": {"field": "label"}}
        },
        {
          "width": 249, "height": 243,
          "data": {"name": "avg23"},
          "layer": [
            {"mark": {"type": "rule", "clip": true, "color": "#d0d0d0", "strokeWidth": 1.5},
             "encoding": {"x": {"datum": 0, "type": "quantitative", "axis": {"title": null}}, "y": {"datum": 0, "type": "quantitative", "axis": {"title": null}}, "x2": {"datum": 5}, "y2": {"datum": 5}}},
            {"mark": {"type": "circle", "size": 15, "color": "#111", "opacity": 1},
             "encoding": {
               "x": {"field": "x", "type": "quantitative", "scale": {"domain": [0.934, 2.57], "nice": false, "zero": false}, "axis": {"title": null, "values": [1, 1.5, 2, 2.5], "format": ".1f"}},
               "y": {"field": "y", "type": "quantitative", "scale": {"domain": [0.944, 2.586], "nice": false, "zero": false}, "axis": {"title": null, "values": [1, 1.5, 2, 2.5], "format": ".1f"}}
             }}
          ]
        },
        {
          "width": 247, "height": 243,
          "data": {"name": "min23"},
          "layer": [
            {"mark": {"type": "rule", "clip": true, "color": "#d0d0d0", "strokeWidth": 1.5},
             "encoding": {"x": {"datum": 0, "type": "quantitative", "axis": {"title": null}}, "y": {"datum": 0, "type": "quantitative", "axis": {"title": null}}, "x2": {"datum": 5}, "y2": {"datum": 5}}},
            {"mark": {"type": "circle", "size": 15, "color": "#111", "opacity": 1},
             "encoding": {
               "x": {"field": "x", "type": "quantitative", "scale": {"domain": [0.735, 2.35], "nice": false, "zero": false}, "axis": {"title": null, "values": [1, 1.5, 2], "format": ".1f"}},
               "y": {"field": "y", "type": "quantitative", "scale": {"domain": [0.735, 2.34], "nice": false, "zero": false}, "axis": {"title": null, "values": [1, 1.5, 2], "format": ".1f"}}
             }}
          ]
        },
        {
          "width": 247, "height": 243,
          "data": {"name": "sd23"},
          "layer": [
            {"mark": {"type": "rule", "clip": true, "color": "#d0d0d0", "strokeWidth": 1.5},
             "encoding": {"x": {"datum": 0, "type": "quantitative", "axis": {"title": null}}, "y": {"datum": 0, "type": "quantitative", "axis": {"title": null}}, "x2": {"datum": 1}, "y2": {"datum": 1}}},
            {"mark": {"type": "circle", "size": 15, "color": "#111", "opacity": 1},
             "encoding": {
               "x": {"field": "x", "type": "quantitative", "scale": {"domain": [0.047, 0.364], "nice": false, "zero": false}, "axis": {"title": null, "values": [0.05, 0.1, 0.15, 0.2, 0.25, 0.3, 0.35], "labelExpr": "abs(datum.value*100 - round(datum.value*10)*10) > 1 ? format(datum.value, '.2f') : ''"}},
               "y": {"field": "y", "type": "quantitative", "scale": {"domain": [0.047, 0.362], "nice": false, "zero": false}, "axis": {"title": null, "values": [0.05, 0.1, 0.15, 0.2, 0.25, 0.3, 0.35], "labelExpr": "abs(datum.value*100 - round(datum.value*10)*10) > 1 ? format(datum.value, '.2f') : ''"}}
             }}
          ]
        }
      ],
      "spacing": 56,
      "bounds": "flush"
    },
    {
      "width": 975, "height": 14, "view": {"stroke": null},
      "data": {"values": [{"label": "Method 2"}]},
      "mark": {"type": "text", "font": "Liberation Serif", "fontSize": 23, "color": "#111"},
      "encoding": {"text": {"field": "label"}}
    }
  ],
  "config": {
    "view": {"stroke": "#9a9a9a", "strokeWidth": 1.4},
    "axis": {
      "grid": false,
      "domain": false,
      "ticks": true,
      "tickSize": 5,
      "tickColor": "#9a9a9a",
      "tickWidth": 1.2,
      "labelFont": "Liberation Sans",
      "labelFontSize": 16,
      "labelColor": "#444444",
      "labelOverlap": false,
      "labelFlush": false,
      "labelBound": false
    },
    "axisX": {"labelPadding": -1},
    "axisY": {"labelAngle": -90, "labelAlign": "center", "labelBaseline": "bottom", "labelPadding": 6}
  }
}
